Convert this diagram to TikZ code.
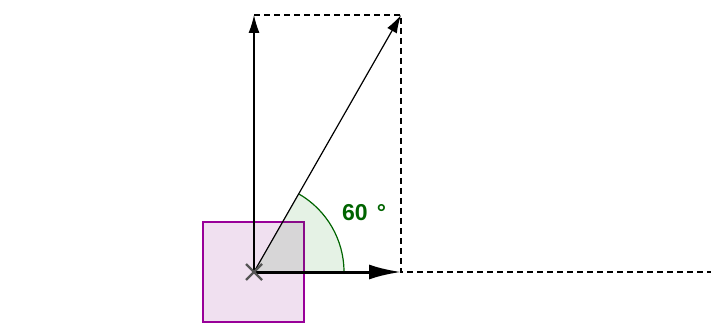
\documentclass[tikz,border=0pt]{standalone}
\usepackage{fontspec}
\setsansfont{Liberation Sans}
\usepackage{tikz}
\usetikzlibrary{arrows.meta,positioning}
\definecolor{vecInk}{HTML}{000000}
\definecolor{vecAngle}{HTML}{006400}
\definecolor{vecAngleFill}{HTML}{007F00}
\definecolor{vecBox}{HTML}{990099}
\definecolor{vecBoxFill}{HTML}{F0E0F0}
\definecolor{vecCross}{HTML}{555555}
\tikzset{
  vec diagram/.style={x=1pt, y=1pt, font=\sffamily, line cap=butt},
  vec arrow/.style={-{Latex[length=18pt,width=11pt]}, draw=vecInk, line width=1.2pt},
  vec thick/.style={-{Latex[length=32pt,width=15pt]}, draw=vecInk, line width=3pt},
  vec guide/.style={draw=vecInk, line width=1.1pt, dash pattern=on 6pt off 4pt},
  vec box/.style={draw=vecBox, fill=vecBoxFill, line width=2.2pt},
  vec label/.style={font=\sffamily\bfseries\fontsize{23}{27}\selectfont, text=vecAngle},
  vec cross/.style={draw=vecCross, line width=2.2pt}
}
\begin{document}
\begin{tikzpicture}[vec diagram]
\useasboundingbox (0,0) rectangle (711,324);
% points of the picture
\coordinate (origin) at (254,52);
\coordinate (xend) at (401,52);
\coordinate (yend) at (254,309);
\coordinate (tip) at (401,309);
\coordinate (far) at (711,52);
% body
\draw[vec box] (203,2) rectangle (304,102);
% angle
\fill[vecAngleFill, opacity=0.1] (origin) -- ++(0:90) arc[start angle=0, end angle=60, radius=90] -- cycle;
\draw[draw=vecAngle, line width=1.2pt] ([xshift=90pt]origin) arc[start angle=0, end angle=60, radius=90];
\node[vec label, anchor=west, inner sep=0pt] (angle) at (342,111) {60\hspace{9pt}°};
% guides
\draw[vec guide] (yend) -- (tip) -- (xend) -- (far);
% vectors
\draw[vec arrow] (origin) -- (yend);
\draw[vec arrow] (origin) -- (tip);
\draw[vec thick] (origin) -- (xend);
% point of application
\draw[vec cross] ([shift={(-8,-8)}]origin) -- ([shift={(8,8)}]origin);
\draw[vec cross] ([shift={(-8,8)}]origin) -- ([shift={(8,-8)}]origin);
\end{tikzpicture}
\end{document}
